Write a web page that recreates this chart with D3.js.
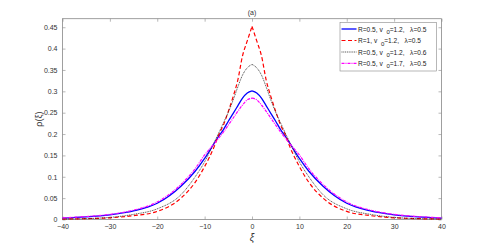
<!DOCTYPE html>
<html><head><meta charset="utf-8">
<script src="https://cdn.jsdelivr.net/npm/d3@7"></script>
<style>body{margin:0;background:#fff;}svg{display:block;font-family:"Liberation Sans",Arial,sans-serif;}</style>
</head><body><svg id="c" width="487" height="247"></svg>
<script>
// Half-profile sample positions (symmetric about xi = 0)
const xiHalf = [0, 1, 2, 3, 4, 5, 6, 7, 8, 10, 12, 15, 20, 25, 30, 35, 40];
const rhoBlue    = [0.301, 0.296, 0.284, 0.266, 0.248, 0.230, 0.211, 0.195, 0.178, 0.143, 0.113, 0.078, 0.038, 0.020, 0.011, 0.006, 0.003];
const rhoRed     = [0.452, 0.418, 0.383, 0.326, 0.287, 0.253, 0.222, 0.199, 0.170, 0.124, 0.087, 0.050, 0.019, 0.009, 0.004, 0.002, 0.001];
const rhoBlack   = [0.363, 0.355, 0.338, 0.310, 0.279, 0.251, 0.227, 0.203, 0.180, 0.135, 0.100, 0.058, 0.025, 0.012, 0.005, 0.002, 0.001];
const rhoMagenta = [0.284, 0.280, 0.268, 0.253, 0.237, 0.221, 0.205, 0.191, 0.177, 0.151, 0.119, 0.082, 0.041, 0.022, 0.012, 0.007, 0.004];
const xTicks = [-40, -30, -20, -10, 0, 10, 20, 30, 40];
const yTicks = [0, 0.05, 0.1, 0.15, 0.2, 0.25, 0.3, 0.35, 0.4, 0.45];
const seriesNames = ["R=0.5, v|0|=1.2,   λ=0.5", "R=1, v|0|=1.2,   λ=0.5", "R=0.5, v|0|=1.2,   λ=0.6", "R=0.5, v|0|=1.7,   λ=0.5"];

const svg = d3.select("#c");
const L = 62.5, R = 441.5, T = 18.7, B = 219.5;
const x = d3.scaleLinear().domain([-40, 40]).range([L, R]);
const y = d3.scaleLinear().domain([0, 0.47]).range([B, T]);

function leftHalf(vals) {
  const pts = [];
  for (let i = xiHalf.length - 1; i >= 0; i--) pts.push([-xiHalf[i], vals[i]]);
  return pts;
}
function rightHalf(vals) {
  return xiHalf.map((v, i) => [v, vals[i]]);
}

const series = [
  {vals: rhoBlue, color: "#0000ff", w: 1.3, dash: null},
  {vals: rhoRed, color: "#ff0000", w: 1.2, dash: "4,2.5"},
  {vals: rhoBlack, color: "#222", w: 0.8, dash: "1,0.8"},
  {vals: rhoMagenta, color: "#ff00ff", w: 1.2, dash: "3,1,1,1"}
];

const axColor = "#888";
const fs = 7;
const gx = svg.append("g").attr("transform", `translate(0,${B})`)
  .call(d3.axisBottom(x).tickValues(xTicks).tickSizeInner(-3).tickSizeOuter(0).tickPadding(5).tickFormat(d3.format("d")));
const gxt = svg.append("g").attr("transform", `translate(0,${T})`)
  .call(d3.axisTop(x).tickValues(xTicks).tickSizeInner(-3).tickSizeOuter(0).tickFormat(""));
const gy = svg.append("g").attr("transform", `translate(${L},0)`)
  .call(d3.axisLeft(y).tickValues(yTicks).tickSizeInner(-3).tickSizeOuter(0).tickPadding(5).tickFormat(d => d === 0 ? "0" : String(+d.toFixed(2))));
const gyr = svg.append("g").attr("transform", `translate(${R},0)`)
  .call(d3.axisRight(y).tickValues(yTicks).tickSizeInner(-3).tickSizeOuter(0).tickFormat(""));
[gx, gxt, gy, gyr].forEach(g => {
  g.selectAll("path.domain").remove();
  g.selectAll("line").attr("stroke", axColor).attr("stroke-width", 0.6);
  g.selectAll("text").attr("fill", "#333").style("font-size", fs + "px").style("font-family", "Liberation Sans, Arial, sans-serif");
});
svg.append("rect").attr("x", L).attr("y", T).attr("width", R - L).attr("height", B - T)
  .attr("fill", "none").attr("stroke", axColor).attr("stroke-width", 0.8);

// curves: each half drawn with a monotone curve so the peak keeps its cusp
const line = d3.line().x(d => x(d[0])).y(d => y(d[1])).curve(d3.curveMonotoneX);
series.forEach(s => {
  [leftHalf(s.vals), rightHalf(s.vals)].forEach(pts => {
    svg.append("path").datum(pts).attr("d", line)
      .attr("fill", "none").attr("stroke", s.color).attr("stroke-width", s.w)
      .attr("stroke-dasharray", s.dash);
  });
});

svg.append("text").attr("x", (L + R) / 2).attr("y", 15).attr("text-anchor", "middle")
  .style("font-size", "7px").attr("fill", "#333").text("(a)");
svg.append("text").attr("x", (L + R) / 2).attr("y", 241).attr("text-anchor", "middle")
  .style("font-size", "10px").style("font-style", "italic").attr("fill", "#333").text("ξ");
svg.append("text").attr("transform", `translate(42,${(T + B) / 2}) rotate(-90)`).attr("text-anchor", "middle")
  .style("font-size", "9px").attr("fill", "#333").text("ρ(ξ)");

const lg = svg.append("g");
lg.append("rect").attr("x", 340).attr("y", 22.5).attr("width", 96.5).attr("height", 48.5)
  .attr("fill", "#fff").attr("stroke", axColor).attr("stroke-width", 0.6);
const ly = [29, 40.5, 52, 63.3];
series.forEach((s, i) => {
  lg.append("line").attr("x1", 341.5).attr("x2", 356.5).attr("y1", ly[i]).attr("y2", ly[i])
    .attr("stroke", s.color).attr("stroke-width", s.w).attr("stroke-dasharray", s.dash);
  const parts = seriesNames[i].split("|");
  const t = lg.append("text").attr("x", 358).attr("y", ly[i] + 2.5).style("font-size", "6.6px").attr("fill", "#222")
    .attr("xml:space", "preserve").style("white-space", "pre");
  t.append("tspan").text(parts[0] + "  ");
  t.append("tspan").attr("dy", 2.5).style("font-size", "6px").text(parts[1]);
  t.append("tspan").attr("dy", -2.5).text(parts[2]);
});
</script>
</body></html>
